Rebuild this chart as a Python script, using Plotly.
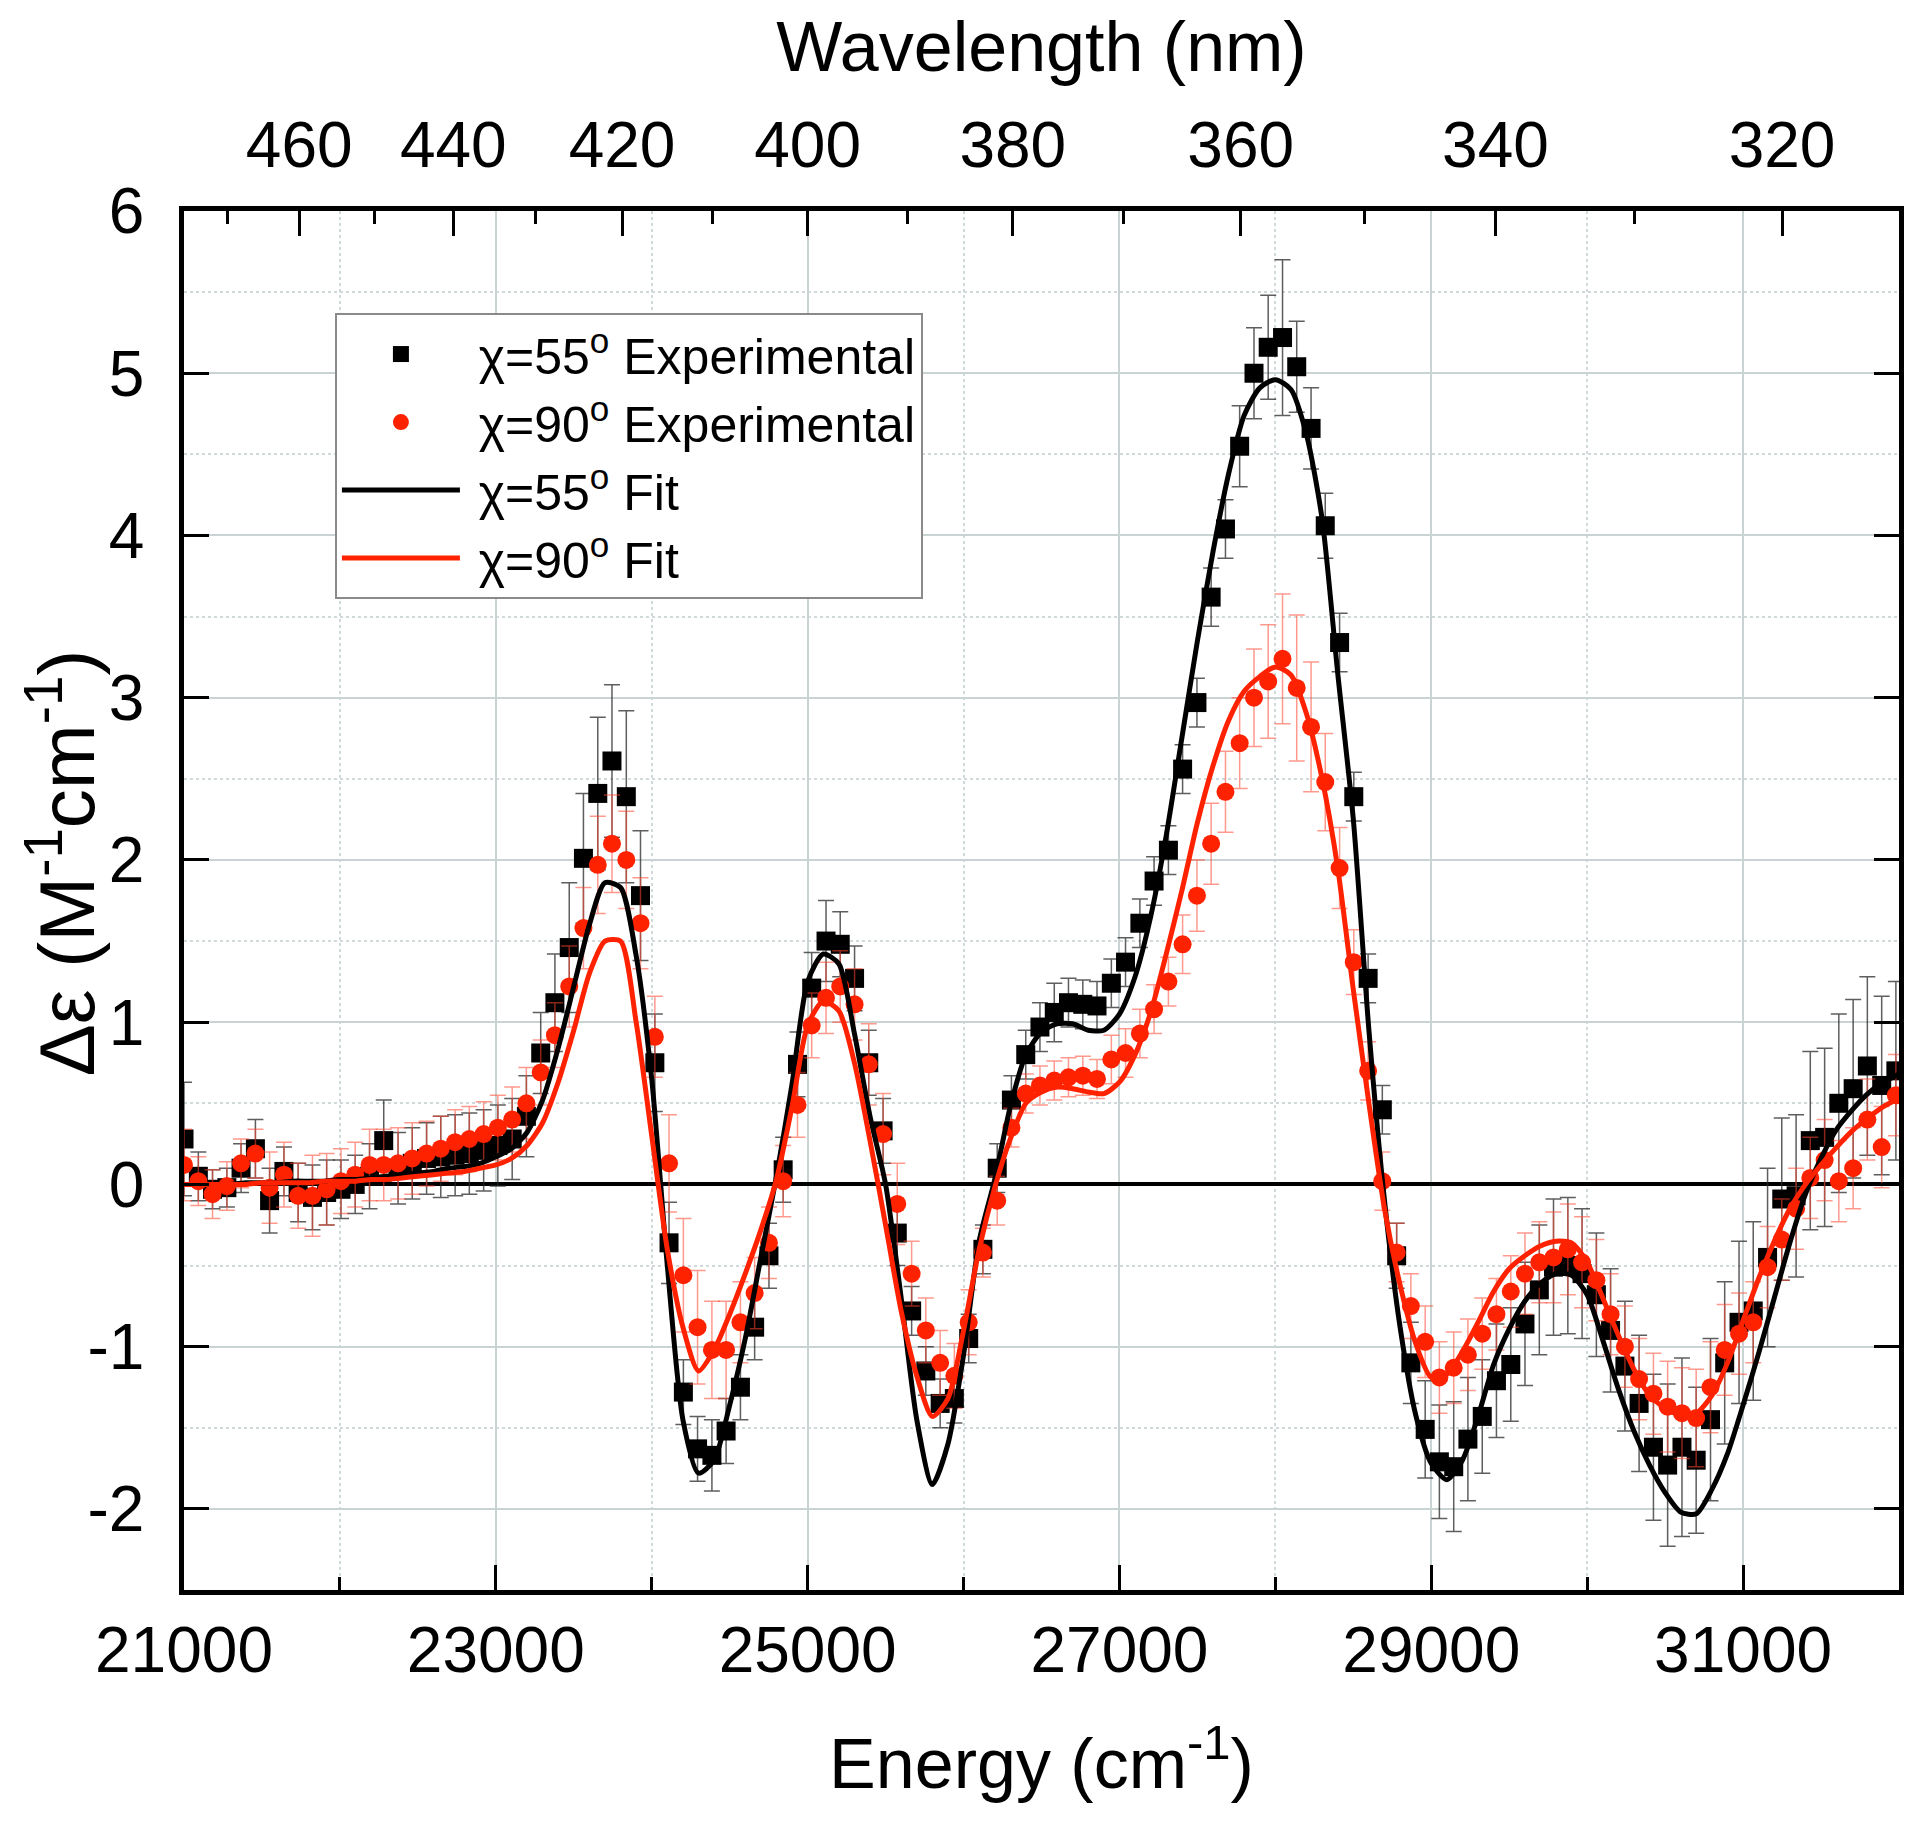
import plotly.graph_objects as go

# ---------------- data ----------------
energy = [21000, 21092, 21183, 21275, 21366, 21458, 21549, 21641, 21732, 21824,
          21915, 22007, 22098, 22190, 22281, 22373, 22464, 22556, 22647, 22739,
          22830, 22922, 23013, 23105, 23196, 23288, 23379, 23471, 23562, 23654,
          23745, 23837, 23928, 24020, 24111, 24203, 24294, 24386, 24477, 24569,
          24660, 24752, 24843, 24935, 25026, 25118, 25209, 25301, 25392, 25484,
          25575, 25667, 25758, 25850, 25941, 26033, 26124, 26216, 26307, 26399,
          26490, 26582, 26673, 26765, 26856, 26948, 27039, 27131, 27222, 27314,
          27405, 27497, 27588, 27680, 27771, 27863, 27954, 28046, 28137, 28229,
          28320, 28412, 28503, 28595, 28686, 28778, 28869, 28961, 29052, 29144,
          29235, 29327, 29418, 29510, 29601, 29693, 29784, 29876, 29967, 30059,
          30150, 30242, 30333, 30425, 30516, 30608, 30699, 30791, 30882, 30974,
          31065, 31157, 31248, 31340, 31431, 31523, 31614, 31706, 31797, 31889,
          31980]

exp55 = [0.28, 0.05, -0.03, -0.02, 0.10, 0.22, -0.10, 0.08, -0.05, -0.08,
         -0.05, -0.03, 0.00, 0.05, 0.27, 0.10, 0.13, 0.16, 0.17, 0.18,
         0.19, 0.21, 0.24, 0.28, 0.42, 0.81, 1.12, 1.46, 2.01, 2.41,
         2.61, 2.39, 1.78, 0.75, -0.36, -1.28, -1.63, -1.67, -1.52, -1.25,
         -0.88, -0.44, 0.09, 0.74, 1.21, 1.50, 1.48, 1.27, 0.75, 0.33,
         -0.30, -0.78, -1.15, -1.35, -1.32, -0.95, -0.40, 0.10, 0.52, 0.80,
         0.97, 1.06, 1.12, 1.11, 1.10, 1.24, 1.37, 1.61, 1.87, 2.06,
         2.56, 2.97, 3.62, 4.04, 4.55, 5.00, 5.16, 5.22, 5.04, 4.66,
         4.06, 3.34, 2.39, 1.27, 0.46, -0.44, -1.10, -1.51, -1.71, -1.74,
         -1.57, -1.43, -1.21, -1.11, -0.86, -0.65, -0.51, -0.50, -0.55, -0.68,
         -0.90, -1.12, -1.35, -1.62, -1.73, -1.62, -1.70, -1.45, -1.10, -0.85,
         -0.78, -0.45, -0.09, -0.07, 0.27, 0.29, 0.50, 0.59, 0.73, 0.61,
         0.70]

err55 = [0.35, 0.15, 0.12, 0.12, 0.15, 0.18, 0.20, 0.15, 0.18, 0.20,
         0.20, 0.18, 0.18, 0.20, 0.25, 0.22, 0.22, 0.22, 0.25, 0.25,
         0.25, 0.25, 0.25, 0.25, 0.25, 0.25, 0.30, 0.40, 0.40, 0.47,
         0.47, 0.53, 0.40, 0.30, 0.25, 0.20, 0.20, 0.22, 0.20, 0.20,
         0.20, 0.20, 0.20, 0.20, 0.22, 0.25, 0.20, 0.20, 0.20, 0.20,
         0.20, 0.15, 0.15, 0.15, 0.15, 0.15, 0.15, 0.15, 0.15, 0.15,
         0.15, 0.18, 0.15, 0.15, 0.15, 0.15, 0.15, 0.15, 0.15, 0.15,
         0.15, 0.15, 0.18, 0.18, 0.25, 0.28, 0.32, 0.48, 0.28, 0.25,
         0.20, 0.18, 0.15, 0.15, 0.15, 0.20, 0.25, 0.30, 0.35, 0.40,
         0.38, 0.35, 0.35, 0.35, 0.38, 0.40, 0.42, 0.42, 0.40, 0.38,
         0.38, 0.40, 0.42, 0.45, 0.50, 0.55, 0.45, 0.50, 0.50, 0.50,
         0.55, 0.55, 0.50, 0.50, 0.55, 0.55, 0.55, 0.55, 0.55, 0.55,
         0.55]

exp90 = [0.12, 0.02, -0.06, -0.01, 0.13, 0.19, -0.02, 0.06, -0.07, -0.07,
         -0.03, 0.02, 0.06, 0.12, 0.12, 0.13, 0.16, 0.19, 0.22, 0.26,
         0.28, 0.31, 0.35, 0.40, 0.50, 0.69, 0.92, 1.22, 1.58, 1.97,
         2.10, 2.00, 1.61, 0.91, 0.13, -0.56, -0.88, -1.02, -1.02, -0.85,
         -0.67, -0.36, 0.02, 0.49, 0.98, 1.15, 1.22, 1.11, 0.74, 0.31,
         -0.12, -0.55, -0.90, -1.10, -1.18, -0.85, -0.42, -0.10, 0.35, 0.56,
         0.61, 0.64, 0.66, 0.67, 0.65, 0.77, 0.81, 0.93, 1.08, 1.25,
         1.48, 1.78, 2.10, 2.42, 2.72, 3.00, 3.10, 3.24, 3.06, 2.82,
         2.48, 1.95, 1.37, 0.70, 0.02, -0.42, -0.75, -0.97, -1.19, -1.13,
         -1.05, -0.92, -0.80, -0.66, -0.55, -0.48, -0.45, -0.40, -0.48, -0.59,
         -0.80, -1.00, -1.20, -1.29, -1.37, -1.41, -1.44, -1.25, -1.02, -0.92,
         -0.85, -0.51, -0.34, -0.15, 0.04, 0.15, 0.02, 0.10, 0.40, 0.23,
         0.55]

err90 = [0.22, 0.15, 0.15, 0.15, 0.15, 0.15, 0.22, 0.20, 0.20, 0.25,
         0.22, 0.20, 0.20, 0.22, 0.22, 0.22, 0.22, 0.20, 0.20, 0.20,
         0.20, 0.20, 0.20, 0.20, 0.22, 0.20, 0.20, 0.25, 0.25, 0.30,
         0.30, 0.30, 0.28, 0.25, 0.30, 0.35, 0.35, 0.30, 0.30, 0.25,
         0.22, 0.22, 0.22, 0.20, 0.20, 0.22, 0.22, 0.22, 0.25, 0.25,
         0.25, 0.20, 0.20, 0.20, 0.20, 0.20, 0.15, 0.15, 0.12, 0.12,
         0.12, 0.12, 0.12, 0.12, 0.12, 0.15, 0.15, 0.15, 0.15, 0.15,
         0.18, 0.22, 0.25, 0.25, 0.28, 0.30, 0.35, 0.40, 0.45, 0.40,
         0.30, 0.25, 0.20, 0.18, 0.18, 0.18, 0.20, 0.22, 0.22, 0.22,
         0.22, 0.22, 0.22, 0.22, 0.25, 0.25, 0.28, 0.28, 0.28, 0.25,
         0.25, 0.25, 0.25, 0.25, 0.28, 0.28, 0.30, 0.28, 0.28, 0.25,
         0.25, 0.25, 0.25, 0.25, 0.25, 0.25, 0.25, 0.25, 0.25, 0.25,
         0.25]

fit_energy = [21000, 21100, 21200, 21300, 21400, 21500, 21600, 21700, 21800, 21900,
              22000, 22100, 22200, 22300, 22400, 22500, 22600, 22700, 22800, 22900,
              23000, 23100, 23200, 23300, 23400, 23500, 23600, 23700, 23800, 23900,
              24000, 24100, 24200, 24300, 24400, 24500, 24600, 24700, 24800, 24900,
              25000, 25100, 25200, 25300, 25400, 25500, 25600, 25700, 25800, 25900,
              26000, 26100, 26200, 26300, 26400, 26500, 26600, 26700, 26800, 26900,
              27000, 27100, 27200, 27300, 27400, 27500, 27600, 27700, 27800, 27900,
              28000, 28100, 28200, 28300, 28400, 28500, 28600, 28700, 28800, 28900,
              29000, 29100, 29200, 29300, 29400, 29500, 29600, 29700, 29800, 29900,
              30000, 30100, 30200, 30300, 30400, 30500, 30600, 30700, 30800, 30900,
              31000, 31100, 31200, 31300, 31400, 31500, 31600, 31700, 31800, 31900,
              32000]

fit55 = [0.00, 0.00, 0.00, 0.00, 0.01, 0.01, 0.01, 0.02, 0.02, 0.02,
         0.03, 0.03, 0.04, 0.05, 0.06, 0.07, 0.08, 0.10, 0.11, 0.13,
         0.17, 0.22, 0.32, 0.52, 0.84, 1.22, 1.60, 1.86, 1.83, 1.41,
         0.65, -0.50, -1.45, -1.78, -1.70, -1.36, -0.95, -0.45, 0.05, 0.62,
         1.25, 1.42, 1.36, 0.93, 0.42, 0.00, -0.70, -1.45, -1.85, -1.60,
         -1.05, -0.35, 0.03, 0.48, 0.80, 0.94, 0.99, 0.99, 0.95, 0.95,
         1.05, 1.28, 1.65, 2.15, 2.75, 3.35, 3.90, 4.38, 4.74, 4.91,
         4.96, 4.90, 4.62, 4.10, 3.15, 2.25, 0.95, -0.10, -0.88, -1.42,
         -1.72, -1.82, -1.70, -1.43, -1.11, -0.89, -0.72, -0.61, -0.55, -0.56,
         -0.68, -0.96, -1.26, -1.52, -1.73, -1.90, -2.02, -2.03, -1.88, -1.66,
         -1.36, -1.04, -0.70, -0.36, -0.06, 0.16, 0.34, 0.46, 0.56, 0.63,
         0.68]

fit90 = [0.00, 0.00, 0.00, 0.00, 0.00, 0.01, 0.01, 0.01, 0.01, 0.02,
         0.02, 0.02, 0.03, 0.03, 0.04, 0.05, 0.06, 0.07, 0.08, 0.10,
         0.12, 0.16, 0.24, 0.38, 0.63, 0.95, 1.30, 1.50, 1.50, 1.00,
         0.30, -0.40, -0.88, -1.15, -1.02, -0.80, -0.55, -0.28, 0.03, 0.48,
         0.98, 1.13, 1.07, 0.75, 0.27, -0.25, -0.78, -1.18, -1.43, -1.32,
         -0.90, -0.40, -0.02, 0.28, 0.50, 0.57, 0.60, 0.59, 0.57, 0.56,
         0.63, 0.80, 1.06, 1.42, 1.81, 2.23, 2.58, 2.86, 3.04, 3.13,
         3.19, 3.14, 2.90, 2.50, 1.95, 1.20, 0.50, -0.15, -0.62, -0.98,
         -1.19, -1.17, -1.03, -0.85, -0.66, -0.52, -0.44, -0.38, -0.35, -0.36,
         -0.48, -0.70, -0.93, -1.14, -1.30, -1.38, -1.42, -1.41, -1.30, -1.10,
         -0.84, -0.58, -0.35, -0.15, 0.00, 0.12, 0.23, 0.33, 0.41, 0.48,
         0.53]

energy_ticks = [21000, 23000, 25000, 27000, 29000, 31000]
energy_ticktext = ["21000", "23000", "25000", "27000", "29000", "31000"]
y_ticks = [-2, -1, 0, 1, 2, 3, 4, 5, 6]
y_ticktext = ["-2", "-1", "0", "1", "2", "3", "4", "5", "6"]
wavelength_major = [460, 440, 420, 400, 380, 360, 340, 320]
wavelength_minor = [470, 450, 430, 410, 390, 370, 350, 330]

for name, arr in [("exp55", exp55), ("err55", err55), ("exp90", exp90), ("err90", err90)]:
    assert len(arr) == len(energy), (name, len(arr), len(energy))
for name, arr in [("fit55", fit55), ("fit90", fit90)]:
    assert len(arr) == len(fit_energy), (name, len(arr), len(fit_energy))

# ---------------- figure ----------------
FONT = "Liberation Sans, Arial, Helvetica, sans-serif"
RED = "#ff2200"
GRID = "#c9d3d3"
GRID_MINOR = "#d0dada"
SP = "\u00a0"

fig = go.Figure()

fig.add_trace(go.Scatter(
    x=energy, y=exp55, mode="markers",
    name=SP + "\u03c7=55<sup>o</sup> Experimental",
    marker=dict(symbol="square", size=19, color="black"),
    error_y=dict(type="data", array=err55, visible=True,
                 color="rgba(40,40,40,0.75)", thickness=1.5, width=8),
))
fig.add_trace(go.Scatter(
    x=energy, y=exp90, mode="markers",
    name=SP + "\u03c7=90<sup>o</sup> Experimental",
    marker=dict(symbol="circle", size=18, color=RED),
    error_y=dict(type="data", array=err90, visible=True,
                 color="rgba(255,70,50,0.55)", thickness=1.5, width=8),
))
fig.add_trace(go.Scatter(
    x=fit_energy, y=fit55, mode="lines",
    name=SP + "\u03c7=55<sup>o</sup> Fit",
    line=dict(color="black", width=5, shape="spline", smoothing=0.7),
))
fig.add_trace(go.Scatter(
    x=fit_energy, y=fit90, mode="lines",
    name=SP + "\u03c7=90<sup>o</sup> Fit",
    line=dict(color=RED, width=5, shape="spline", smoothing=0.7),
))
# invisible trace to anchor the top wavelength axis
fig.add_trace(go.Scatter(x=[fit_energy[0]], y=[None], xaxis="x2", mode="markers",
                         showlegend=False, hoverinfo="skip"))

major_vals = [1e7 / w for w in wavelength_major]
minor_vals = [1e7 / w for w in wavelength_minor]

fig.update_layout(
    width=1920, height=1824,
    margin=dict(l=176, r=29, t=203, b=242),
    plot_bgcolor="white", paper_bgcolor="white",
    font=dict(family=FONT, color="black", size=46),
    showlegend=True,
    xaxis=dict(
        range=[21000, 32000], tickmode="array", tickvals=energy_ticks,
        ticktext=energy_ticktext, automargin=False,
        ticks="inside", ticklen=25, tickwidth=3, tickcolor="black",
        showline=True, linewidth=4.5, linecolor="black", mirror=True,
        showgrid=True, gridcolor=GRID, gridwidth=2, zeroline=False,
        minor=dict(tick0=21000, dtick=1000, ticks="inside", ticklen=13,
                   tickwidth=2.5, tickcolor="black", showgrid=True,
                   gridcolor=GRID_MINOR, griddash="dot", gridwidth=2),
        tickfont=dict(size=64), ticklabelstandoff=0,
        title=dict(text="Energy (cm<sup>-1</sup>)", font=dict(size=70), standoff=56),
    ),
    xaxis2=dict(
        overlaying="x", side="top", range=[21000, 32000], automargin=False,
        tickmode="array", tickvals=major_vals,
        ticktext=[str(w) for w in wavelength_major],
        ticks="inside", ticklen=25, tickwidth=3, tickcolor="black",
        showline=False, showgrid=False, zeroline=False,
        minor=dict(tickmode="array", tickvals=minor_vals, ticks="inside",
                   ticklen=13, tickwidth=2.5, tickcolor="black", showgrid=False),
        tickfont=dict(size=64), ticklabelstandoff=30,
        title=dict(text="Wavelength (nm)", font=dict(size=70), standoff=40),
    ),
    yaxis=dict(
        range=[-2.5, 6], tickmode="array", tickvals=y_ticks, ticktext=y_ticktext,
        automargin=False,
        ticks="inside", ticklen=25, tickwidth=3, tickcolor="black",
        showline=True, linewidth=4.5, linecolor="black", mirror="ticks",
        showgrid=True, gridcolor=GRID, gridwidth=2,
        zeroline=True, zerolinecolor="black", zerolinewidth=3.5,
        minor=dict(tick0=0, dtick=0.5, ticks="", showgrid=True,
                   gridcolor=GRID_MINOR, griddash="dot", gridwidth=2),
        tickfont=dict(size=64), ticklabelstandoff=22,
    ),
    annotations=[dict(
        text="\u0394\u03b5 (M<sup>-1</sup>cm<sup>-1</sup>)",
        xref="paper", yref="paper", x=0, y=0.527,
        xanchor="center", yanchor="middle", xshift=-122,
        textangle=-90, showarrow=False,
        font=dict(size=78, family=FONT, color="black"),
    )],
    legend=dict(
        x=0.088, y=0.926, xanchor="left", yanchor="top",
        bgcolor="white", bordercolor="#8a8a8a", borderwidth=2,
        font=dict(size=50, family=FONT), itemwidth=118,
        tracegroupgap=0,
    ),
)

fig.write_html("out.html")
